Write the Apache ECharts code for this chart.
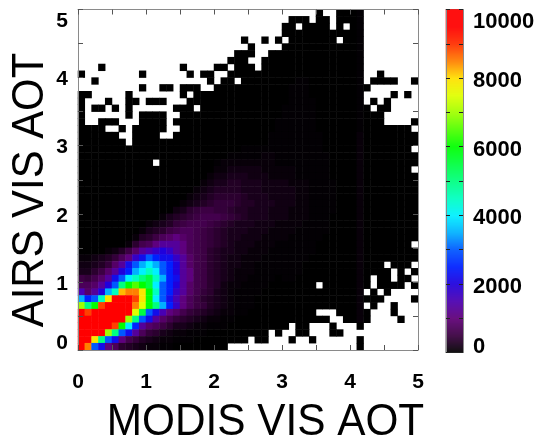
<!DOCTYPE html>
<html><head><meta charset="utf-8">
<script src="https://cdn.jsdelivr.net/npm/echarts@6/dist/echarts.min.js"></script>
<style>html,body{margin:0;padding:0;background:#fff}#c{width:538px;height:439px}</style></head>
<body><div id="c"></div>
<script>
const xTitle = 'MODIS VIS AOT';
const yTitle = 'AIRS VIS AOT';
const axisTickValues = [0, 1, 2, 3, 4, 5];
const colorbarMax = 10000;
const levelValues = {0:0,1:30,a:70,b:140,c:210,d:290,e:370,f:450,g:530,h:620,i:720,j:850,k:1050,l:1300,m:1550,n:1750,o:2000,p:2200,q:2500,r:3000,s:3500,t:4000,u:4500,v:5000,w:5500,x:6000,y:6500,z:7000,A:7500,B:7900,C:8200,D:8500,E:8900,F:10000};
// colour ramp at 500 steps, from 0 to 10000
const ramp = ['#000000','#3a0040','#600078','#4c00b0','#2000dc','#0020ff','#0058ff','#00b0ff','#00f0ff','#00ffc0','#00ff80','#00ff40','#00ff00','#50ff00','#a0ff00','#e0ff00','#ffe000','#ff8000','#ff3000','#ff0000','#ff0000'];
// rows from the top of the plot (AIRS AOT 5) to the bottom (AIRS AOT 0), 50 cells each
const rows = [
'.......... .......... .......... .....0..00 01........',
'.......... .......... .......... .000.00.00 01........',
'.......... .......... .......... 00.0000.0. 01........',
'.......... .......... .......... 0000000000 01........',
'.......... .......... ....0..0.0 .0000000.0 01........',
'.......... .......... .....0.... 0000000000 01........',
'.......... .......... ...000..00 0000000000 01........',
'.......... .......... ..000..000 0000000000 01........',
'...0...... .....0.... 00.000.000 0000000000 01........',
'0........0 ......0.00 ..00000000 0000000000 01..0.....',
'..0....... .........0 .00.000000 0011000000 01.0000..0',
'.........0 ..00.000.. 0000000000 0111000000 010.......',
'00.....0.. .....0.000 0000000000 0111000000 01....0.0.',
'0...0..00. 000...0000 0000000000 0111100000 01.0.0....',
'0.00.0.0.. ....000.00 0000000000 1111100000 010.00....',
'0......0.0 000..00000 0000000000 1111100000 01000.....',
'0..000...0 000.000000 0000000001 1111100000 01000....0',
'0000..0.00 000..00000 0000000001 1111100000 010000000.',
'000000..00 00..000000 0000000011 1111110000 0a00000000',
'0000000.00 0000000000 0000000011 1111110000 0a00000000',
'0000000000 0000000000 0000111111 1111110000 0a0000000.',
'0000000000 0000000000 0011111aa1 1111111000 0a00000000',
'0000000000 0.00000000 1aaaaaaaa1 1111111000 0a00000000',
'0000000000 0000000000 aabbbbbaaa aa11111000 0a0000000.',
'0000000000 000000000a bbcccbbbaa aa11111000 0a00000000',
'0000000000 00000000ab ccddcccbbb baaa111100 0a00000000',
'0000000000 0000000abc ddddcccbbb bbaa111100 0a00000000',
'0000000000 000000abcd eeeedcccbb bbaa111100 0a00000000',
'0000000000 00000abcde fffeddcccb bbaa111100 0a00000000',
'0000000000 0000bcefgg ffeddcccbb baaa111100 0a00000000',
'0000000000 00acdefghh hgfedcccbb baaa111000 0a00000000',
'0000000000 abcdfghhhg fedcccbbba aaa1111000 0a00000000',
'000000000a cdeghiihgf edcccbbbaa aa11111000 0a00000000',
'00000000ad egijkjihgf edccbbbaaa a111110000 0a00000000',
'0000000aeh iklllkihgf edcbbbaaa1 1111100000 0a0000000.',
'0000abdgjl mnonlkihge dccbbaaa11 1111100000 0a00000000',
'aabcdfiknp rqppnljhge dcbbaaa111 1111000000 0a00000000',
'bbcdfjlprs tsrqoljhge dcbbaa1111 1110000000 0a000.000.',
'ccegjloqst utrqolkhge dcbaaa1111 1110000000 0a0000.0.0',
'gfhjlprtuv wusqplkhge dcbaa11110 1100000000 0a0.00.00.',
'iijlorvxyx wtrqoljhge dbaa111100 00000.0000 0a0.0000.0',
'mjlosuCDDB xurqnljhfe cba1111000 0000000000 0a.0.0....',
'sqruBFFFEB xtrpmkiged cba1110000 0000000000 0a000....0',
'zvxEFFFFDA xvsqnkigfd cba1110000 0000000000 0a.0..0...',
'FEFFFFFFAw rpmkjhfedc baa1100000 00000...00 0a0...0...',
'FFFFFFFzvr pljhfedcba a110000000 0000000..0 0a0....0..',
'FFFFFExtql jigeccbaa1 1100000000 0.00...0.. .0........',
'FFFFzvrpli fecbaa1110 00000000.0 ..00...00. ..........',
'FFBvrpkhfd cbaa111000 00000.00.. .0..0..... .0........',
'FDrpkiedcb aa11000000 00........ .......... .0........'
];

const font = 'Liberation Sans, Arial, sans-serif';
const heat = [];
const n = rows.length;
rows.forEach((row, r) => {
  row.replace(/ /g, '').split('').forEach((ch, c) => {
    if (ch !== '.') heat.push([c, n - 1 - r, levelValues[ch]]);
  });
});
const cats = Array.from({length: n}, (_, i) => String(i));
const barSteps = 343;
const barCats = Array.from({length: barSteps}, (_, i) => String(i));
const barData = barCats.map((_, i) => [0, i, (i + 0.5) / barSteps * colorbarMax]);

const chart = echarts.init(document.getElementById('c'), null, {renderer: 'canvas'});
const frame = {lineStyle: {color: '#8a8a8a', width: 1}};
const tick = {inside: true, length: 5, lineStyle: {color: '#555', width: 1}};
const plain = {show: false};
const numStyle = size => ({fontFamily: font, fontWeight: 'bold', fontSize: size, color: '#000'});
const unitLabel = v => axisTickValues.includes(v) ? String(v) : '';
const yUnitLabel = v => !axisTickValues.includes(v) ? '' : v === 0 ? '{lo|0}' : v === 5 ? '{hi|5}' : '{mid|' + v + '}';
const barLabel = v => v % 2000 !== 0 ? '' : v === 0 ? '{lo|0}' : v === colorbarMax ? '{hi|' + v + '}' : '{mid|' + v + '}';

const valueAxisX = (pos, labels) => ({
  type: 'value', gridIndex: 0, position: pos, min: 0, max: 5, interval: 0.5, z: 5,
  axisLine: {show: true, onZero: false, ...frame}, axisTick: tick, splitLine: plain,
  axisLabel: labels ? {show: true, formatter: unitLabel, margin: 22, ...numStyle(21), hideOverlap: false} : plain
});
const valueAxisY = (pos, labels) => ({
  type: 'value', gridIndex: 0, position: pos, min: 0, max: 5, interval: 0.5, z: 5,
  axisLine: {show: true, onZero: false, ...frame}, axisTick: tick, splitLine: plain,
  axisLabel: labels ? {show: true, formatter: yUnitLabel, margin: 10, ...numStyle(21), hideOverlap: false,
    rich: {lo: {...numStyle(21), padding: [0, 0, 14, 0]}, hi: {...numStyle(21), padding: [23, 0, 0, 0]}, mid: {...numStyle(21), padding: [4, 0, 0, 0]}}} : plain
});
const barAxis = (pos, labels) => ({
  type: 'value', gridIndex: 1, position: pos, min: 0, max: colorbarMax, interval: 1000, z: 5,
  axisLine: {show: true, onZero: false, ...frame}, axisTick: {inside: true, length: 4, lineStyle: {color: '#222', width: 1}}, splitLine: plain,
  axisLabel: labels ? {show: true, formatter: barLabel, margin: 10, ...numStyle(22), hideOverlap: false,
    rich: {lo: {...numStyle(22), padding: [0, 0, 11, 0]}, hi: {...numStyle(22), padding: [25, 0, 0, 0]}, mid: {...numStyle(22), padding: [6, 0, 0, 0]}}} : plain
});
const hiddenCat = (grid, data) => ({type: 'category', gridIndex: grid, data, show: false, boundaryGap: true});
const barEdge = pos => ({type: 'value', gridIndex: 1, position: pos, min: 0, max: 1, show: true, axisTick: plain, axisLabel: plain, splitLine: plain, axisLine: {show: true, onZero: false, ...frame}});

chart.setOption({
  animation: false,
  backgroundColor: '#fff',
  grid: [
    {left: 78, top: 9.5, width: 340, height: 340.5, containLabel: false},
    {left: 446, top: 9.5, width: 17, height: 343, containLabel: false}
  ],
  xAxis: [hiddenCat(0, cats), valueAxisX('bottom', true), valueAxisX('top', false), hiddenCat(1, ['bar']), barEdge('bottom'), barEdge('top')],
  yAxis: [hiddenCat(0, cats), valueAxisY('left', true), valueAxisY('right', false), hiddenCat(1, barCats), barAxis('right', true), barAxis('left', false)],
  visualMap: {show: false, type: 'continuous', min: 0, max: colorbarMax, seriesIndex: [0, 1], dimension: 2, inRange: {color: ramp}},
  series: [
    {type: 'heatmap', xAxisIndex: 0, yAxisIndex: 0, data: heat, progressive: 0, itemStyle: {borderWidth: 0}, emphasis: {disabled: true}},
    {type: 'heatmap', xAxisIndex: 3, yAxisIndex: 3, data: barData, progressive: 0, itemStyle: {borderWidth: 0}, emphasis: {disabled: true}}
  ],
  graphic: [
    {type: 'text', x: 265.5, y: 422.5, scaleX: 0.94, style: {text: xTitle, font: '45px ' + font, fill: '#000', textAlign: 'center', textVerticalAlign: 'middle'}},
    {type: 'text', x: 31, y: 190, rotation: Math.PI / 2, scaleX: 0.93, style: {text: yTitle, font: '45px ' + font, fill: '#000', textAlign: 'center', textVerticalAlign: 'middle'}}
  ]
});
</script></body></html>
